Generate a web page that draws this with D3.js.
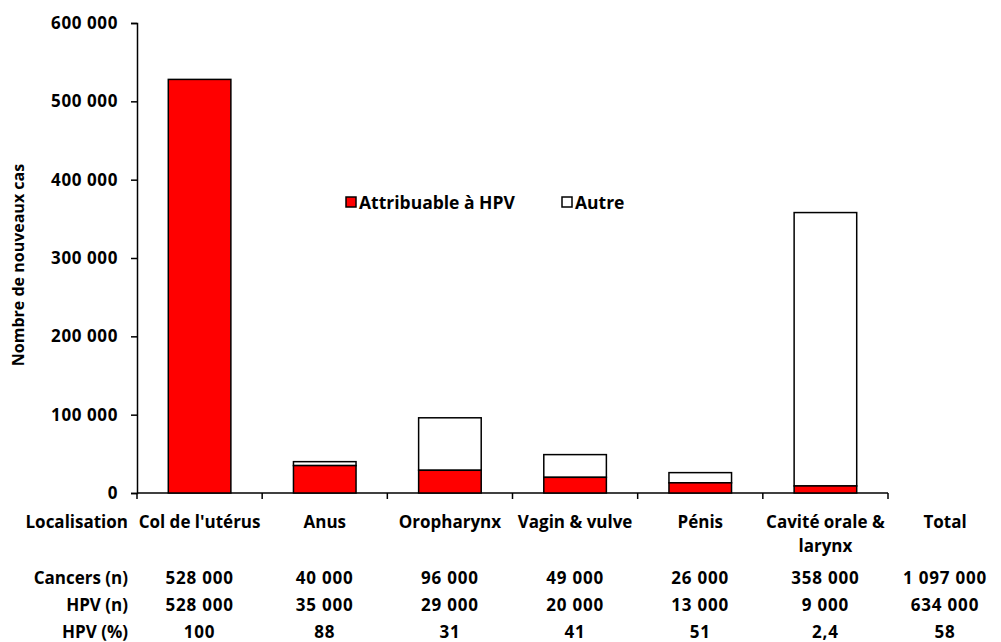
<!DOCTYPE html>
<html>
<head>
<meta charset="utf-8">
<script src="https://cdn.jsdelivr.net/npm/d3@7"></script>
<style>
  body { margin: 0; background: #fff; }
  text { font-family: "Open Sans", sans-serif; font-weight: bold; fill: #000; }
</style>
</head>
<body>
<script>
const width = 1001;
const height = 642;

// data
const categories = ["Col de l'utérus", "Anus", "Oropharynx", "Vagin & vulve", "Pénis", "Cavité orale & larynx"];
const cancers = [528000, 40000, 96000, 49000, 26000, 358000];
const hpv = [528000, 35000, 29000, 20000, 13000, 9000];
const hpvPct = ["100", "88", "31", "41", "51", "2,4"];
const totalCol = ["1 097 000", "634 000", "58"];
const rowLabels = ["Cancers (n)", "HPV (n)", "HPV (%)"];
const yTicks = [0, 100000, 200000, 300000, 400000, 500000, 600000];

const margin = { left: 137, right: 113, top: 23, bottom: 149 };

const svg = d3.select("body")
    .append("svg")
    .attr("width", width)
    .attr("height", height);

const xScale = d3.scaleBand()
    .domain(categories)
    .range([margin.left, width - margin.right])
    .paddingInner(0.5)
    .paddingOuter(0.25);

const yScale = d3.scaleLinear()
    .domain([0, 600000])
    .range([height - margin.bottom, margin.top]);

const fmt = v => d3.format(",")(v).replace(/,/g, " ");

// y axis
const yAxis = svg.append("g")
    .attr("transform", `translate(${margin.left},0)`)
    .call(d3.axisLeft(yScale).tickValues(yTicks).tickSize(6).tickFormat(fmt));
yAxis.select(".domain").attr("stroke", "#000").attr("stroke-width", 1.5);
yAxis.selectAll(".tick line").attr("stroke", "#000").attr("stroke-width", 1.5);
yAxis.selectAll(".tick text")
    .attr("x", -19)
    .style("font-size", "17px")
    .style("letter-spacing", "0.6px")
    .style("font-family", "'Open Sans', sans-serif")
    .style("font-weight", "bold");

// x axis line with ticks at band boundaries
const x0 = margin.left, x1 = width - margin.right;
const y0 = yScale(0);
const step = xScale.step();
svg.append("line")
    .attr("x1", x0).attr("x2", x1)
    .attr("y1", y0).attr("y2", y0)
    .attr("stroke", "#000").attr("stroke-width", 1.5);
d3.range(categories.length + 1).forEach(i => {
    const xx = x0 + i * step;
    svg.append("line")
        .attr("x1", xx).attr("x2", xx)
        .attr("y1", y0).attr("y2", y0 + 6)
        .attr("stroke", "#000").attr("stroke-width", 1.5);
});

// bars: red = HPV, white = autre
categories.forEach((c, i) => {
    svg.append("rect")
        .attr("x", xScale(c))
        .attr("y", yScale(cancers[i]))
        .attr("width", xScale.bandwidth())
        .attr("height", yScale(hpv[i]) - yScale(cancers[i]))
        .attr("fill", "#fff")
        .attr("stroke", "#000")
        .attr("stroke-width", 1.5);
    svg.append("rect")
        .attr("x", xScale(c))
        .attr("y", yScale(hpv[i]))
        .attr("width", xScale.bandwidth())
        .attr("height", y0 - yScale(hpv[i]))
        .attr("fill", "#ff0000")
        .attr("stroke", "#000")
        .attr("stroke-width", 1.5);
});

// y axis title
svg.append("text")
    .attr("transform", "translate(24,265) rotate(-90)")
    .attr("text-anchor", "middle")
    .style("font-size", "16px")
    .text("Nombre de nouveaux cas");

// legend
const legend = [
    { label: "Attribuable à HPV", color: "#ff0000", x: 346 },
    { label: "Autre", color: "#fff", x: 562 }
];
legend.forEach(d => {
    svg.append("rect")
        .attr("x", d.x).attr("y", 197)
        .attr("width", 10).attr("height", 10)
        .attr("fill", d.color)
        .attr("stroke", "#000").attr("stroke-width", 1.5);
    svg.append("text")
        .attr("x", d.x + 13).attr("y", 209)
        .style("font-size", "17.5px")
        .text(d.label);
});

// table below
const labelX = 128;
const totalX = 945;
const rowY = [528, 584, 611, 638];
const cx = c => xScale(c) + xScale.bandwidth() / 2;

function cell(x, y, t, anchor, num) {
    svg.append("text")
        .attr("x", x).attr("y", y)
        .attr("text-anchor", anchor || "middle")
        .style("font-size", "17px")
        .style("letter-spacing", num ? "0.8px" : null)
        .text(t);
}

cell(labelX, rowY[0], "Localisation", "end");
categories.forEach(c => {
    if (c === "Cavité orale & larynx") {
        cell(cx(c), rowY[0], "Cavité orale &");
        cell(cx(c), rowY[0] + 24, "larynx");
    } else {
        cell(cx(c), rowY[0], c);
    }
});
cell(totalX, rowY[0], "Total");

rowLabels.forEach((r, j) => cell(labelX, rowY[j + 1], r, "end"));
categories.forEach((c, i) => {
    cell(cx(c), rowY[1], fmt(cancers[i]), null, true);
    cell(cx(c), rowY[2], fmt(hpv[i]), null, true);
    cell(cx(c), rowY[3], hpvPct[i], null, true);
});
totalCol.forEach((t, j) => cell(totalX, rowY[j + 1], t, null, true));
</script>
</body>
</html>
